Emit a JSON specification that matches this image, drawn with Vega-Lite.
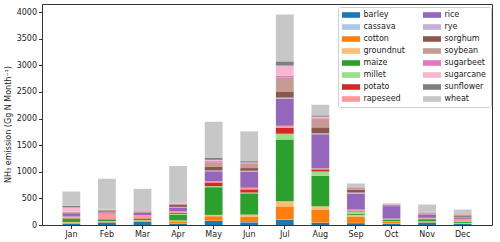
{
  "$schema": "https://vega.github.io/schema/vega-lite/v6.json",
  "width": 450,
  "height": 221,
  "autosize": {"type": "none"},
  "padding": {"left": 42, "top": 4, "right": 8, "bottom": 17},
  "config": {
    "font": "DejaVu Sans",
    "view": {"stroke": "#333", "strokeWidth": 1},
    "axis": {
      "labelFont": "DejaVu Sans",
      "titleFont": "DejaVu Sans",
      "labelFontSize": 8,
      "titleFontSize": 8,
      "titleFontWeight": "normal",
      "labelColor": "#222",
      "titleColor": "#222",
      "tickColor": "#333",
      "tickSize": 3.5,
      "labelPadding": 2,
      "grid": false,
      "domain": false
    },
    "legend": {
      "labelFont": "DejaVu Sans",
      "labelFontSize": 8,
      "labelColor": "#222"
    }
  },
  "data": {
    "values": [
      {"month":"Jan","crop":"barley","v":20},{"month":"Jan","crop":"cassava","v":5},{"month":"Jan","crop":"cotton","v":15},{"month":"Jan","crop":"groundnut","v":15},{"month":"Jan","crop":"maize","v":60},{"month":"Jan","crop":"millet","v":10},{"month":"Jan","crop":"potato","v":10},{"month":"Jan","crop":"rapeseed","v":25},{"month":"Jan","crop":"rice","v":50},{"month":"Jan","crop":"rye","v":5},{"month":"Jan","crop":"sorghum","v":15},{"month":"Jan","crop":"soybean","v":15},{"month":"Jan","crop":"sugarbeet","v":5},{"month":"Jan","crop":"sugarcane","v":80},{"month":"Jan","crop":"sunflower","v":30},{"month":"Jan","crop":"wheat","v":270},
      {"month":"Feb","crop":"barley","v":45},{"month":"Feb","crop":"cassava","v":5},{"month":"Feb","crop":"cotton","v":10},{"month":"Feb","crop":"groundnut","v":10},{"month":"Feb","crop":"maize","v":25},{"month":"Feb","crop":"millet","v":10},{"month":"Feb","crop":"potato","v":10},{"month":"Feb","crop":"rapeseed","v":100},{"month":"Feb","crop":"rice","v":20},{"month":"Feb","crop":"rye","v":5},{"month":"Feb","crop":"sorghum","v":20},{"month":"Feb","crop":"soybean","v":20},{"month":"Feb","crop":"sugarbeet","v":5},{"month":"Feb","crop":"sugarcane","v":15},{"month":"Feb","crop":"sunflower","v":5},{"month":"Feb","crop":"wheat","v":565},
      {"month":"Mar","crop":"barley","v":65},{"month":"Mar","crop":"cassava","v":5},{"month":"Mar","crop":"cotton","v":10},{"month":"Mar","crop":"groundnut","v":10},{"month":"Mar","crop":"maize","v":25},{"month":"Mar","crop":"millet","v":10},{"month":"Mar","crop":"potato","v":15},{"month":"Mar","crop":"rapeseed","v":45},{"month":"Mar","crop":"rice","v":40},{"month":"Mar","crop":"rye","v":5},{"month":"Mar","crop":"sorghum","v":10},{"month":"Mar","crop":"soybean","v":15},{"month":"Mar","crop":"sugarbeet","v":5},{"month":"Mar","crop":"sugarcane","v":15},{"month":"Mar","crop":"sunflower","v":5},{"month":"Mar","crop":"wheat","v":400},
      {"month":"Apr","crop":"barley","v":25},{"month":"Apr","crop":"cassava","v":5},{"month":"Apr","crop":"cotton","v":40},{"month":"Apr","crop":"groundnut","v":15},{"month":"Apr","crop":"maize","v":110},{"month":"Apr","crop":"millet","v":15},{"month":"Apr","crop":"potato","v":20},{"month":"Apr","crop":"rapeseed","v":25},{"month":"Apr","crop":"rice","v":75},{"month":"Apr","crop":"rye","v":10},{"month":"Apr","crop":"sorghum","v":35},{"month":"Apr","crop":"soybean","v":20},{"month":"Apr","crop":"sugarbeet","v":5},{"month":"Apr","crop":"sugarcane","v":20},{"month":"Apr","crop":"sunflower","v":5},{"month":"Apr","crop":"wheat","v":685},
      {"month":"May","crop":"barley","v":75},{"month":"May","crop":"cassava","v":5},{"month":"May","crop":"cotton","v":85},{"month":"May","crop":"groundnut","v":25},{"month":"May","crop":"maize","v":520},{"month":"May","crop":"millet","v":20},{"month":"May","crop":"potato","v":70},{"month":"May","crop":"rapeseed","v":20},{"month":"May","crop":"rice","v":190},{"month":"May","crop":"rye","v":15},{"month":"May","crop":"sorghum","v":75},{"month":"May","crop":"soybean","v":80},{"month":"May","crop":"sugarbeet","v":20},{"month":"May","crop":"sugarcane","v":25},{"month":"May","crop":"sunflower","v":35},{"month":"May","crop":"wheat","v":680},
      {"month":"Jun","crop":"barley","v":50},{"month":"Jun","crop":"cassava","v":5},{"month":"Jun","crop":"cotton","v":105},{"month":"Jun","crop":"groundnut","v":35},{"month":"Jun","crop":"maize","v":400},{"month":"Jun","crop":"millet","v":15},{"month":"Jun","crop":"potato","v":60},{"month":"Jun","crop":"rapeseed","v":30},{"month":"Jun","crop":"rice","v":305},{"month":"Jun","crop":"rye","v":15},{"month":"Jun","crop":"sorghum","v":50},{"month":"Jun","crop":"soybean","v":85},{"month":"Jun","crop":"sugarbeet","v":10},{"month":"Jun","crop":"sugarcane","v":10},{"month":"Jun","crop":"sunflower","v":25},{"month":"Jun","crop":"wheat","v":560},
      {"month":"Jul","crop":"barley","v":100},{"month":"Jul","crop":"cassava","v":5},{"month":"Jul","crop":"cotton","v":245},{"month":"Jul","crop":"groundnut","v":95},{"month":"Jul","crop":"maize","v":1160},{"month":"Jul","crop":"millet","v":110},{"month":"Jul","crop":"potato","v":110},{"month":"Jul","crop":"rapeseed","v":40},{"month":"Jul","crop":"rice","v":510},{"month":"Jul","crop":"rye","v":20},{"month":"Jul","crop":"sorghum","v":115},{"month":"Jul","crop":"soybean","v":260},{"month":"Jul","crop":"sugarbeet","v":35},{"month":"Jul","crop":"sugarcane","v":190},{"month":"Jul","crop":"sunflower","v":80},{"month":"Jul","crop":"wheat","v":880},
      {"month":"Aug","crop":"barley","v":40},{"month":"Aug","crop":"cassava","v":5},{"month":"Aug","crop":"cotton","v":245},{"month":"Aug","crop":"groundnut","v":60},{"month":"Aug","crop":"maize","v":575},{"month":"Aug","crop":"millet","v":80},{"month":"Aug","crop":"potato","v":40},{"month":"Aug","crop":"rapeseed","v":20},{"month":"Aug","crop":"rice","v":640},{"month":"Aug","crop":"rye","v":20},{"month":"Aug","crop":"sorghum","v":110},{"month":"Aug","crop":"soybean","v":140},{"month":"Aug","crop":"sugarbeet","v":30},{"month":"Aug","crop":"sugarcane","v":30},{"month":"Aug","crop":"sunflower","v":25},{"month":"Aug","crop":"wheat","v":200},
      {"month":"Sep","crop":"barley","v":35},{"month":"Sep","crop":"cassava","v":5},{"month":"Sep","crop":"cotton","v":110},{"month":"Sep","crop":"groundnut","v":40},{"month":"Sep","crop":"maize","v":25},{"month":"Sep","crop":"millet","v":40},{"month":"Sep","crop":"potato","v":15},{"month":"Sep","crop":"rapeseed","v":20},{"month":"Sep","crop":"rice","v":300},{"month":"Sep","crop":"rye","v":20},{"month":"Sep","crop":"sorghum","v":50},{"month":"Sep","crop":"soybean","v":40},{"month":"Sep","crop":"sugarbeet","v":5},{"month":"Sep","crop":"sugarcane","v":5},{"month":"Sep","crop":"sunflower","v":10},{"month":"Sep","crop":"wheat","v":60},
      {"month":"Oct","crop":"barley","v":25},{"month":"Oct","crop":"cassava","v":5},{"month":"Oct","crop":"cotton","v":30},{"month":"Oct","crop":"groundnut","v":10},{"month":"Oct","crop":"maize","v":25},{"month":"Oct","crop":"millet","v":10},{"month":"Oct","crop":"potato","v":5},{"month":"Oct","crop":"rapeseed","v":10},{"month":"Oct","crop":"rice","v":235},{"month":"Oct","crop":"rye","v":10},{"month":"Oct","crop":"sorghum","v":10},{"month":"Oct","crop":"soybean","v":10},{"month":"Oct","crop":"sugarbeet","v":5},{"month":"Oct","crop":"sugarcane","v":5},{"month":"Oct","crop":"sunflower","v":5},{"month":"Oct","crop":"wheat","v":5},
      {"month":"Nov","crop":"barley","v":45},{"month":"Nov","crop":"cassava","v":5},{"month":"Nov","crop":"cotton","v":15},{"month":"Nov","crop":"groundnut","v":5},{"month":"Nov","crop":"maize","v":40},{"month":"Nov","crop":"millet","v":10},{"month":"Nov","crop":"potato","v":5},{"month":"Nov","crop":"rapeseed","v":10},{"month":"Nov","crop":"rice","v":55},{"month":"Nov","crop":"rye","v":10},{"month":"Nov","crop":"sorghum","v":15},{"month":"Nov","crop":"soybean","v":20},{"month":"Nov","crop":"sugarbeet","v":5},{"month":"Nov","crop":"sugarcane","v":5},{"month":"Nov","crop":"sunflower","v":5},{"month":"Nov","crop":"wheat","v":135},
      {"month":"Dec","crop":"barley","v":20},{"month":"Dec","crop":"cassava","v":5},{"month":"Dec","crop":"cotton","v":5},{"month":"Dec","crop":"groundnut","v":5},{"month":"Dec","crop":"maize","v":20},{"month":"Dec","crop":"millet","v":5},{"month":"Dec","crop":"potato","v":5},{"month":"Dec","crop":"rapeseed","v":50},{"month":"Dec","crop":"rice","v":30},{"month":"Dec","crop":"rye","v":10},{"month":"Dec","crop":"sorghum","v":15},{"month":"Dec","crop":"soybean","v":20},{"month":"Dec","crop":"sugarbeet","v":5},{"month":"Dec","crop":"sugarcane","v":5},{"month":"Dec","crop":"sunflower","v":5},{"month":"Dec","crop":"wheat","v":85}
    ]
  },
  "mark": {"type": "bar"},
  "encoding": {
    "x": {
      "field": "month",
      "type": "nominal",
      "sort": ["Jan","Feb","Mar","Apr","May","Jun","Jul","Aug","Sep","Oct","Nov","Dec"],
      "scale": {"paddingInner": 0.5, "paddingOuter": 0.575},
      "axis": {"title": null, "labelAngle": 0}
    },
    "y": {
      "field": "v",
      "type": "quantitative",
      "aggregate": "sum",
      "stack": "zero",
      "scale": {"domain": [0, 4153], "nice": false},
      "axis": {"title": "NH₃ emission (Gg N Month⁻¹)", "format": "d", "values": [0,500,1000,1500,2000,2500,3000,3500,4000], "titlePadding": 4, "titleY": 120}
    },
    "color": {
      "field": "crop",
      "type": "nominal",
      "scale": {
        "domain": ["barley","cassava","cotton","groundnut","maize","millet","potato","rapeseed","rice","rye","sorghum","soybean","sugarbeet","sugarcane","sunflower","wheat"],
        "range": ["#1f77b4","#aec7e8","#ff7f0e","#ffbb78","#2ca02c","#98df8a","#d62728","#ff9896","#9467bd","#c5b0d5","#8c564b","#c49c94","#e377c2","#f7b6d2","#7f7f7f","#c7c7c7"]
      },
      "legend": {
        "title": null,
        "orient": "none",
        "legendX": 296,
        "legendY": 3,
        "columns": 2,
        "columnPadding": 18,
        "rowPadding": 4,
        "padding": 4,
        "symbolType": "M-1,-0.7H3.5V0.7H-1Z",
        "symbolSize": 64,
        "symbolStrokeWidth": 0,
        "labelOffset": 13.4,
        "strokeColor": "#d0d0d0",
        "fillColor": "rgba(255,255,255,0.8)",
        "cornerRadius": 2
      }
    },
    "order": {"field": "crop", "type": "nominal", "sort": "ascending"}
  }
}
